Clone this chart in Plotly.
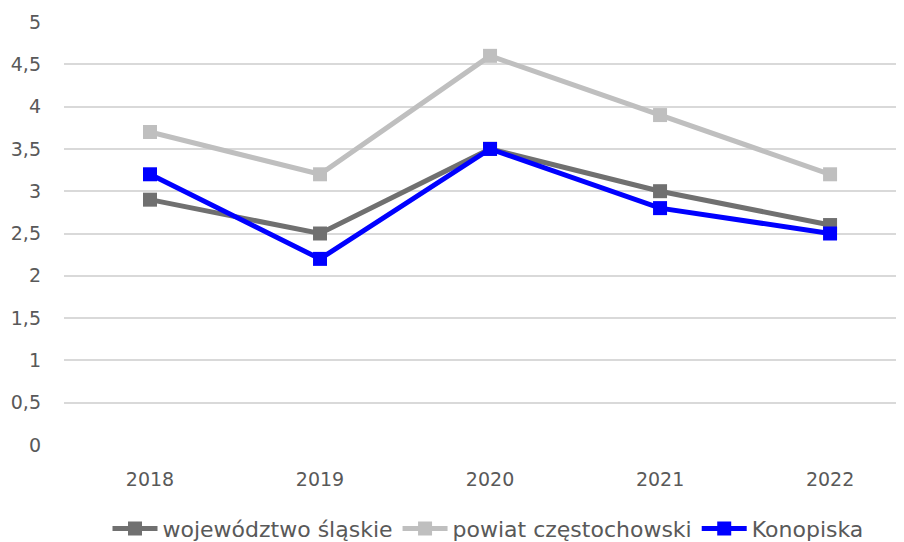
import plotly.graph_objects as go

years = ["2018", "2019", "2020", "2021", "2022"]
wojewodztwo = [2.9, 2.5, 3.5, 3.0, 2.6]
powiat = [3.7, 3.2, 4.6, 3.9, 3.2]
konopiska = [3.2, 2.2, 3.5, 2.8, 2.5]

series = [
    ("województwo śląskie", wojewodztwo, "#707070"),
    ("powiat częstochowski", powiat, "#bfbfbf"),
    ("Konopiska", konopiska, "#0000ff"),
]

fig = go.Figure()
for name, vals, col in series:
    fig.add_trace(go.Scatter(
        x=list(range(len(years))), y=vals, name=name, mode="lines+markers",
        line=dict(color=col, width=5),
        marker=dict(symbol="square", size=14, color=col),
    ))

font_family = "'DejaVu Sans', sans-serif"
fig.update_layout(
    width=904, height=542,
    margin=dict(l=56, r=0, t=14, b=103),
    paper_bgcolor="white", plot_bgcolor="white",
    separators=", ",
    font=dict(family=font_family, size=19, color="#595959"),
    showlegend=True,
    legend=dict(orientation="h", x=0.5, xanchor="center", y=-0.148, yanchor="top",
                font=dict(size=22, color="#595959"), itemwidth=45, tracegroupgap=0),
    xaxis=dict(tickmode="array", tickvals=list(range(len(years))), ticktext=years,
               range=[-0.506, 4.482], showgrid=False, zeroline=False, showline=False,
               ticks="", ticklabelstandoff=21, tickfont=dict(size=19), automargin=False),
    yaxis=dict(range=[0, 5], dtick=0.5, showgrid=True, gridcolor="#d9d9d9", gridwidth=1.5,
               zeroline=False, showline=False, ticks="", ticklabelstandoff=22,
               tickfont=dict(size=19), automargin=False),
)
fig.write_html("out.html")
